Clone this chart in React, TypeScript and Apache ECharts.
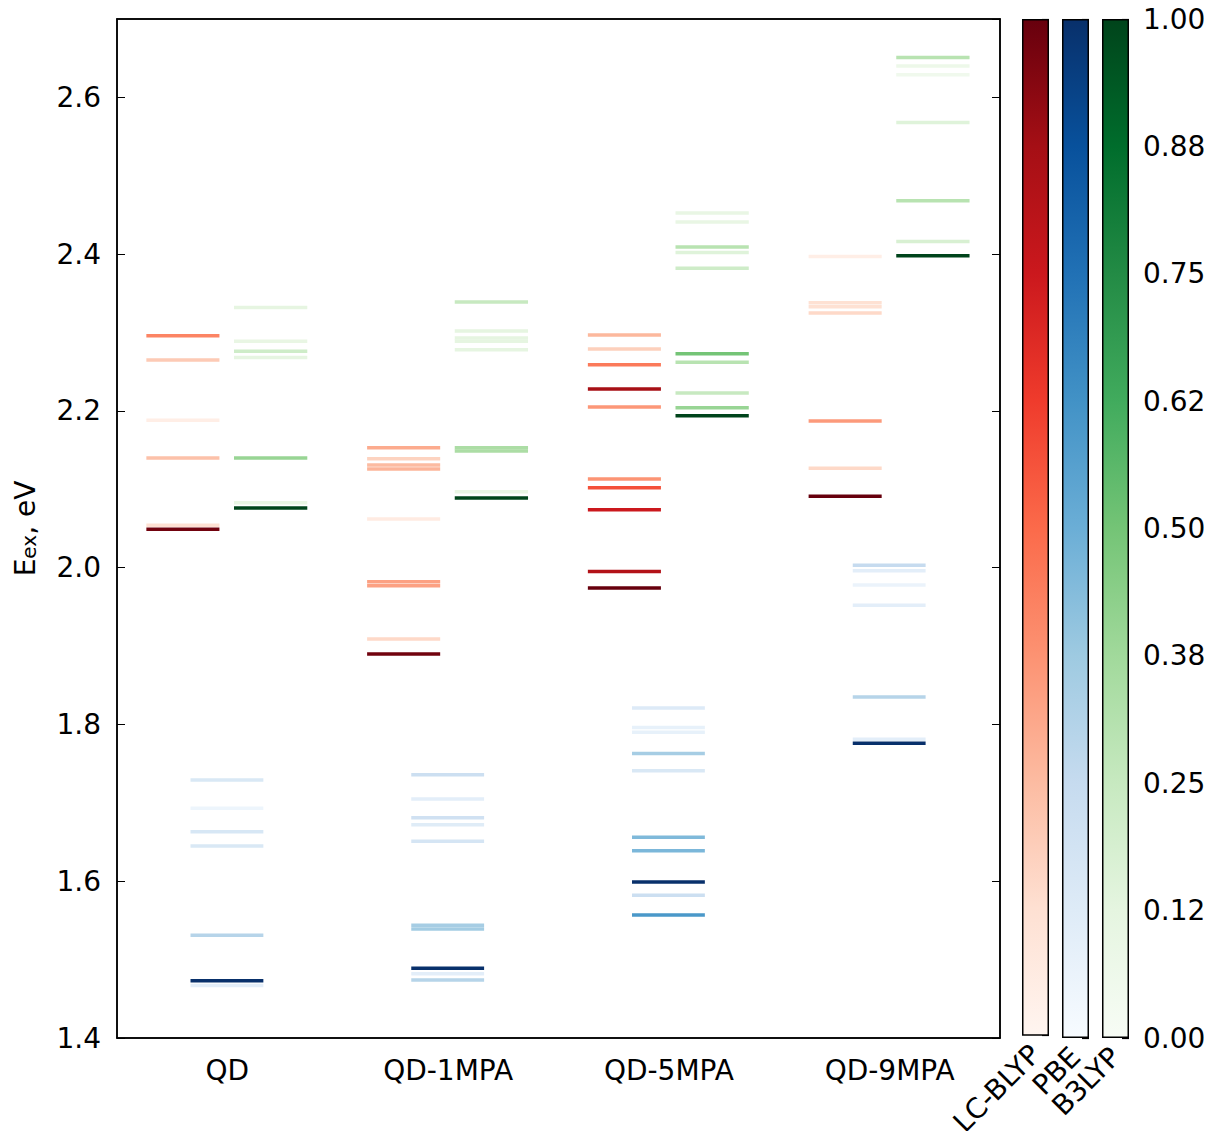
import React, { useEffect, useRef } from "react";
import * as echarts from "echarts";

// ---- Data (excitation energy in eV, normalized intensity 0..1) ----
const categories = ["QD", "QD-1MPA", "QD-5MPA", "QD-9MPA"];

const LCBLYP_QD = [[2.296, 0.42], [2.265, 0.2], [2.188, 0.04], [2.140, 0.23], [2.054, 0.12], [2.049, 0.98]];
const LCBLYP_1MPA = [[2.153, 0.3], [2.139, 0.17], [2.131, 0.25], [2.126, 0.27], [2.062, 0.06], [1.982, 0.33], [1.977, 0.33], [1.909, 0.15], [1.890, 0.98]];
const LCBLYP_5MPA = [[2.297, 0.26], [2.279, 0.18], [2.259, 0.45], [2.228, 0.87], [2.205, 0.36], [2.113, 0.37], [2.102, 0.57], [2.074, 0.75], [1.995, 0.83], [1.974, 1.0]];
const LCBLYP_9MPA = [[2.397, 0.04], [2.338, 0.12], [2.333, 0.12], [2.325, 0.15], [2.187, 0.35], [2.127, 0.15], [2.091, 1.0]];

const PBE_QD = [[1.729, 0.15], [1.693, 0.05], [1.663, 0.16], [1.645, 0.15], [1.531, 0.3], [1.473, 1.0], [1.467, 0.1]];
const PBE_1MPA = [[1.736, 0.22], [1.705, 0.1], [1.681, 0.2], [1.672, 0.12], [1.651, 0.17], [1.544, 0.35], [1.539, 0.36], [1.489, 1.0], [1.482, 0.1], [1.474, 0.3]];
const PBE_5MPA = [[1.821, 0.13], [1.796, 0.08], [1.790, 0.08], [1.763, 0.35], [1.741, 0.15], [1.656, 0.45], [1.639, 0.46], [1.599, 1.0], [1.582, 0.22], [1.557, 0.6]];
const PBE_9MPA = [[2.003, 0.25], [1.996, 0.1], [1.978, 0.06], [1.952, 0.1], [1.835, 0.3], [1.781, 0.1], [1.776, 1.0]];

const B3LYP_QD = [[2.332, 0.12], [2.289, 0.1], [2.276, 0.22], [2.268, 0.12], [2.140, 0.4], [2.083, 0.1], [2.076, 1.0]];
const B3LYP_1MPA = [[2.339, 0.25], [2.302, 0.12], [2.293, 0.12], [2.289, 0.12], [2.278, 0.12], [2.153, 0.34], [2.149, 0.34], [2.097, 0.1], [2.089, 1.0]];
const B3LYP_5MPA = [[2.4525, 0.1], [2.441, 0.1], [2.409, 0.3], [2.402, 0.15], [2.382, 0.22], [2.273, 0.5], [2.262, 0.3], [2.223, 0.25], [2.204, 0.4], [2.194, 1.0]];
const B3LYP_9MPA = [[2.651, 0.3], [2.640, 0.07], [2.629, 0.05], [2.568, 0.15], [2.468, 0.3], [2.416, 0.18], [2.398, 1.0]];

const yTicks = [1.4, 1.6, 1.8, 2.0, 2.2, 2.4, 2.6];
const cbTickLabels = ["0.00", "0.12", "0.25", "0.38", "0.50", "0.62", "0.75", "0.88", "1.00"];
const cbNames = ["LC-BLYP", "PBE", "B3LYP"];

// matplotlib colormaps (ColorBrewer 9-class)
const REDS = ["#fff5f0", "#fee0d2", "#fcbba1", "#fc9272", "#fb6a4a", "#ef3b2c", "#cb181d", "#a50f15", "#67000d"];
const BLUES = ["#f7fbff", "#deebf7", "#c6dbef", "#9ecae1", "#6baed6", "#4292c6", "#2171b5", "#08519c", "#08306b"];
const GREENS = ["#f7fcf5", "#e5f5e0", "#c7e9c0", "#a1d99b", "#74c476", "#41ab5d", "#238b45", "#006d2c", "#00441b"];

const FONT = "DejaVu Sans";

function toItems(groups: number[][][]) {
  const out: number[][] = [];
  groups.forEach((g, ci) => g.forEach(([e, f]) => out.push([ci, e, f])));
  return out;
}

function makeRender(off0: number, off1: number) {
  return (_params: any, api: any) => {
    const p = api.coord([api.value(0), api.value(1)]);
    const bw = api.size([1, 0])[0];
    return {
      type: "line",
      shape: { x1: p[0] + off0 * bw, y1: p[1], x2: p[0] + off1 * bw, y2: p[1] },
      style: { stroke: api.visual("color"), lineWidth: 3.5 },
    };
  };
}

function gradient(colors: string[]) {
  const stops = colors.map((c, i) => ({ offset: 1 - i / (colors.length - 1), color: c }));
  stops.reverse();
  return new echarts.graphic.LinearGradient(0, 0, 0, 1, stops);
}

export default function App() {
  const ref = useRef<HTMLDivElement>(null);
  useEffect(() => {
    if (!ref.current) return;
    const chart = echarts.init(ref.current, null, { renderer: "svg" });

    const cbLefts = [1022, 1062, 1102];
    const cmaps = [REDS, BLUES, GREENS];

    const grids: any[] = [
      { left: 117, top: 19, width: 883, height: 1019, show: false },
      ...cbLefts.map((l) => ({ left: l, top: 19, width: 27, height: 1019, show: false })),
    ];

    const xAxes: any[] = [
      {
        type: "category", gridIndex: 0, data: categories, position: "bottom",
        axisLine: { lineStyle: { color: "#000", width: 1.5 } },
        axisTick: { inside: true, alignWithLabel: true, length: 8, lineStyle: { color: "#000", width: 1 } },
        axisLabel: { fontFamily: FONT, fontSize: 28, color: "#000", margin: 18 },
        splitLine: { show: false },
      },
      {
        type: "category", gridIndex: 0, data: categories, position: "top",
        axisLine: { lineStyle: { color: "#000", width: 1.5 } },
        axisTick: { inside: true, alignWithLabel: true, length: 8, lineStyle: { color: "#000", width: 1 } },
        axisLabel: { show: false },
        splitLine: { show: false },
      },
      ...cbNames.map((n, i) => ({
        type: "category", gridIndex: i + 1, data: [n],
        axisLine: { show: false }, axisTick: { show: false },
        axisLabel: { rotate: 45, fontFamily: FONT, fontSize: 28, color: "#000", margin: 14, interval: 0 },
      })),
    ];

    const yAxes: any[] = [
      {
        type: "value", gridIndex: 0, min: 1.4, max: 2.7, interval: 0.2, position: "left",
        name: "{a|E}{b|ex}{a|, eV}", nameLocation: "middle", nameGap: 78, nameRotate: 90,
        nameTextStyle: {
          rich: {
            a: { fontFamily: FONT, fontSize: 28, color: "#000" },
            b: { fontFamily: FONT, fontSize: 20, color: "#000", verticalAlign: "bottom", lineHeight: 16 },
          },
        },
        axisLine: { show: true, lineStyle: { color: "#000", width: 1.5 } },
        axisTick: { show: true, inside: true, length: 8, lineStyle: { color: "#000", width: 1 } },
        axisLabel: {
          fontFamily: FONT, fontSize: 28, color: "#000", margin: 16, showMaxLabel: false,
          formatter: (v: number) => {
            const t = yTicks.find((y) => Math.abs(y - v) < 1e-6);
            return t === undefined ? "" : t.toFixed(1);
          },
        },
        splitLine: { show: false },
      },
      {
        type: "value", gridIndex: 0, min: 1.4, max: 2.7, interval: 0.2, position: "right",
        axisLine: { show: true, lineStyle: { color: "#000", width: 1.5 } },
        axisTick: { show: true, inside: true, length: 8, lineStyle: { color: "#000", width: 1 } },
        axisLabel: { show: false },
        splitLine: { show: false },
      },
      ...cbNames.map((_n, i) => ({
        type: "value", gridIndex: i + 1, min: 0, max: 1, interval: 0.125, position: "right",
        axisLine: { show: false },
        axisTick: { show: true, inside: true, length: 7, lineStyle: { color: "#000", width: 1.2 } },
        axisLabel: {
          show: i === 2, fontFamily: FONT, fontSize: 28, color: "#000", margin: 14,
          formatter: (_v: number, idx: number) => cbTickLabels[idx] ?? "",
        },
        splitLine: { show: false },
      })),
    ];

    const series: any[] = [
      {
        type: "custom", name: "LC-BLYP", xAxisIndex: 0, yAxisIndex: 0,
        renderItem: makeRender(-0.367, -0.036),
        data: toItems([LCBLYP_QD, LCBLYP_1MPA, LCBLYP_5MPA, LCBLYP_9MPA]),
        encode: { x: 0, y: 1 },
      },
      {
        type: "custom", name: "PBE", xAxisIndex: 0, yAxisIndex: 0,
        renderItem: makeRender(-0.167, 0.163),
        data: toItems([PBE_QD, PBE_1MPA, PBE_5MPA, PBE_9MPA]),
        encode: { x: 0, y: 1 },
      },
      {
        type: "custom", name: "B3LYP", xAxisIndex: 0, yAxisIndex: 0,
        renderItem: makeRender(0.03, 0.362),
        data: toItems([B3LYP_QD, B3LYP_1MPA, B3LYP_5MPA, B3LYP_9MPA]),
        encode: { x: 0, y: 1 },
      },
      ...cmaps.map((cm, i) => ({
        type: "bar", xAxisIndex: i + 2, yAxisIndex: i + 2, barWidth: "100%",
        data: [1], silent: true,
        itemStyle: { color: gradient(cm), borderColor: "#000", borderWidth: 1.5 },
      })),
    ];

    chart.setOption({
      animation: false,
      backgroundColor: "#fff",
      grid: grids,
      xAxis: xAxes,
      yAxis: yAxes,
      visualMap: cmaps.map((cm, i) => ({
        type: "continuous", show: false, min: 0, max: 1, dimension: 2, seriesIndex: i,
        inRange: { color: cm },
      })),
      graphic: [
        {
          type: "rect", shape: { x: 117, y: 19, width: 883, height: 1019 },
          style: { fill: "none", stroke: "#000", lineWidth: 1.5 }, silent: true, z: 100,
        },
      ],
      series,
    });
    return () => chart.dispose();
  }, []);
  return <div ref={ref} style={{ width: 1212, height: 1139, margin: -8 }} />;
}
